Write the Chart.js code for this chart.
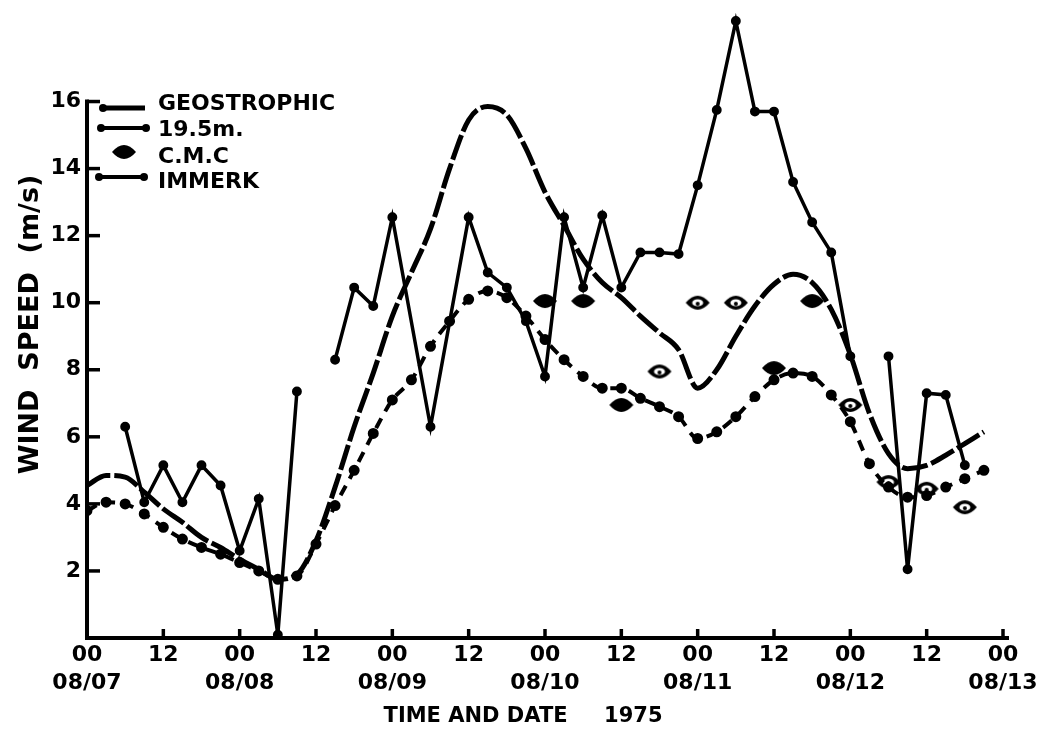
<!DOCTYPE html>
<html>
<head>
<meta charset="utf-8">
<script src="https://cdn.jsdelivr.net/npm/chart.js@4.4.1/dist/chart.umd.min.js"></script>
<style>
  html, body { margin: 0; padding: 0; background: #fff; }
  #wrap { width: 1046px; height: 734px; position: relative; }
</style>
</head>
<body>
<div id="wrap"><canvas id="c"></canvas></div>
<script>
// ---------- DATA (hours after 00 08/07/1975) ----------
const curveHours = [0,3,6,9,12,15,18,21,24,27,30,33,36,39,42,45,48,51,54,57,60,63,66,69,72,75,78,81,84,87,90,93,96,99,102,105,108,111,114,117,120,123,126,129,132,135,138,141];
const geostrophic = [4.55,4.85,4.8,4.35,3.85,3.45,3.0,2.7,2.35,2.05,1.75,1.9,2.9,4.5,6.3,7.9,9.6,10.9,12.2,14.0,15.45,15.85,15.6,14.6,13.3,12.3,11.3,10.6,10.15,9.6,9.1,8.6,7.45,8.0,9.0,9.9,10.55,10.85,10.6,9.8,8.45,6.7,5.5,5.05,5.15,5.45,5.8,6.15];
const immerk = [3.8,4.05,4.0,3.7,3.3,2.95,2.7,2.5,2.25,2.0,1.75,1.85,2.8,3.95,5.0,6.1,7.1,7.7,8.7,9.45,10.1,10.35,10.15,9.6,8.9,8.3,7.8,7.45,7.45,7.15,6.9,6.6,5.95,6.15,6.6,7.2,7.7,7.9,7.8,7.25,6.45,5.2,4.5,4.2,4.25,4.5,4.75,5.0];

const hours195 = [6,9,12,15,18,21,24,27,30,33,36,39,42,45,48,54,60,63,66,69,72,75,78,81,84,87,90,93,96,99,102,105,108,111,114,117,120,123,126,129,132,135,138];
const wind195 = [6.3,4.05,5.15,4.05,5.15,4.55,2.6,4.15,0.1,7.35,null,8.3,10.45,9.9,12.55,6.3,12.55,10.9,10.45,9.45,7.8,12.55,10.45,12.6,10.45,11.5,11.5,11.45,13.5,15.75,18.4,15.7,15.7,13.6,12.4,11.5,8.4,null,8.4,2.05,7.3,7.25,5.15];

const cmcHours = [72,78,84,90,96,102,108,114,120,126,132,138];
const cmc = [10.05,10.05,6.95,7.95,10.0,10.0,8.05,10.05,6.95,4.65,4.45,3.9];
const cmcHollow = [false,false,false,true,true,true,false,false,true,true,true,true];

const hourLabels = ['00','12'];
const dateLabels = ['08/07','08/08','08/09','08/10','08/11','08/12','08/13'];
const seriesNames = ['GEOSTROPHIC','19.5m.','C.M.C','IMMERK'];
const yTicksShown = [2,4,6,8,10,12,14,16];
const xTitle = 'TIME AND DATE     1975      ';
const yTitle = 'WIND  SPEED  (m/s)';

// ---------- helpers ----------
const toXY = (hs, vs) => hs.map((h, i) => ({x: h, y: vs[i]}));
const FONT = "'DejaVu Sans', sans-serif";

function lens(open) {
  const c = document.createElement('canvas');
  c.width = 26; c.height = 18;
  const g = c.getContext('2d');
  g.fillStyle = '#000';
  g.beginPath();
  g.moveTo(1, 9);
  g.quadraticCurveTo(13, -5, 25, 9);
  g.quadraticCurveTo(13, 23, 1, 9);
  g.fill();
  if (open) {
    g.fillStyle = '#fff';
    g.beginPath(); g.ellipse(13, 9, 5.5, 3.6, 0, 0, Math.PI * 2); g.fill();
    g.fillStyle = '#000';
    g.beginPath(); g.arc(13, 10, 2, 0, Math.PI * 2); g.fill();
  }
  return c;
}
const lensFilled = lens(false), lensOpen = lens(true);

// axes + legend drawn with scale pixel functions
const axesPlugin = {
  id: 'axesPlugin',
  afterDraw(chart) {
    const {ctx, scales: {x, y}} = chart;
    const x0 = x.getPixelForValue(0), y0 = y.getPixelForValue(0);
    ctx.save();
    ctx.strokeStyle = '#000';
    ctx.lineCap = 'butt';
    ctx.lineWidth = 4;
    ctx.beginPath();
    ctx.moveTo(x0, y0 + 2);
    ctx.lineTo(x0, y.getPixelForValue(16) - 2);
    ctx.stroke();
    ctx.beginPath();
    ctx.moveTo(x0 - 2, y0);
    ctx.lineTo(x.getPixelForValue(144) + 6, y0);
    ctx.stroke();
    ctx.lineWidth = 3.5;
    yTicksShown.forEach(v => {
      const py = y.getPixelForValue(v);
      ctx.beginPath(); ctx.moveTo(x0, py); ctx.lineTo(x0 + 13, py); ctx.stroke();
    });
    for (let h = 12; h <= 144; h += 12) {
      const px = x.getPixelForValue(h);
      ctx.beginPath(); ctx.moveTo(px, y0); ctx.lineTo(px, y0 - 9); ctx.stroke();
    }
    // legend
    const dot = (px, py, r) => { ctx.beginPath(); ctx.arc(px, py, r, 0, Math.PI * 2); ctx.fill(); };
    ctx.fillStyle = '#000';
    ctx.lineWidth = 5;
    ctx.beginPath(); ctx.moveTo(102, 108); ctx.lineTo(145, 108); ctx.stroke();
    dot(103, 108, 4);
    ctx.lineWidth = 4;
    ctx.beginPath(); ctx.moveTo(101, 128); ctx.lineTo(146, 128); ctx.stroke();
    dot(101, 128, 4); dot(146, 128, 4);
    ctx.drawImage(lensFilled, 124 - 13, 152 - 9);
    ctx.beginPath(); ctx.moveTo(99, 177); ctx.lineTo(144, 177); ctx.stroke();
    dot(99, 177, 4); dot(144, 177, 4);
    ctx.font = "bold 22px " + FONT;
    ctx.textBaseline = 'middle';
    ctx.textAlign = 'left';
    const ly = [104, 130, 157, 182];
    seriesNames.forEach((s, i) => ctx.fillText(s, 158, ly[i]));
    ctx.restore();
  }
};

new Chart(document.getElementById('c'), {
  type: 'line',
  data: {
    datasets: [
      {
        label: seriesNames[1],
        data: toXY(hours195, wind195),
        borderColor: '#000', backgroundColor: '#000',
        borderWidth: 3.5, pointRadius: 3.2, pointHoverRadius: 0,
        tension: 0, spanGaps: false
      },
      {
        label: seriesNames[0],
        data: toXY(curveHours, geostrophic),
        borderColor: '#000', backgroundColor: '#000',
        borderWidth: 5, borderDash: [26, 4], pointRadius: 0,
        tension: 0.35, cubicInterpolationMode: 'monotone'
      },
      {
        label: seriesNames[3],
        data: toXY(curveHours, immerk),
        borderColor: '#000', backgroundColor: '#000',
        borderWidth: 4, borderDash: [11, 8], pointRadius: 3.5,
        tension: 0.35, cubicInterpolationMode: 'monotone'
      },
      {
        label: seriesNames[2],
        data: toXY(cmcHours, cmc),
        showLine: false,
        pointStyle: ctx => cmcHollow[ctx.dataIndex] ? lensOpen : lensFilled,
        pointRadius: 10
      }
    ]
  },
  options: {
    responsive: true,
    maintainAspectRatio: false,
    animation: false,
    devicePixelRatio: 1,
    events: [],
    layout: { padding: { left: 0, right: 43, top: 3, bottom: 0 } },
    plugins: { legend: { display: false }, tooltip: { enabled: false } },
    scales: {
      x: {
        type: 'linear', min: 0, max: 144,
        grid: { display: false, drawTicks: false },
        border: { display: false },
        ticks: {
          stepSize: 12, autoSkip: false, maxRotation: 0, padding: 4,
          color: '#000',
          font: { family: FONT, weight: 'bold', size: 22, lineHeight: 1.25 },
          callback: v => (v % 24 === 0) ? [hourLabels[0], dateLabels[v / 24]] : hourLabels[1]
        },
        title: {
          display: true, text: xTitle, color: '#000',
          font: { family: FONT, weight: 'bold', size: 21, lineHeight: 1.2 },
          padding: { top: 0, bottom: 5 }
        },
        afterFit: s => { s.height = 96; s.paddingLeft = 0; s.paddingRight = 0; }
      },
      y: {
        type: 'linear', min: 0, max: 18.7,
        grid: { display: false, drawTicks: false },
        border: { display: false },
        ticks: {
          stepSize: 2, padding: 6, color: '#000',
          font: { family: FONT, weight: 'bold', size: 22 },
          callback: v => yTicksShown.includes(v) ? String(v) : ''
        },
        title: {
          display: true, text: yTitle, color: '#000',
          font: { family: FONT, weight: 'bold', size: 27, lineHeight: 1.2 },
          padding: { top: 15, bottom: 0 }
        },
        afterFit: s => { s.width = 87; s.paddingTop = 0; s.paddingBottom = 0; }
      }
    }
  },
  plugins: [axesPlugin]
});
</script>
</body>
</html>
